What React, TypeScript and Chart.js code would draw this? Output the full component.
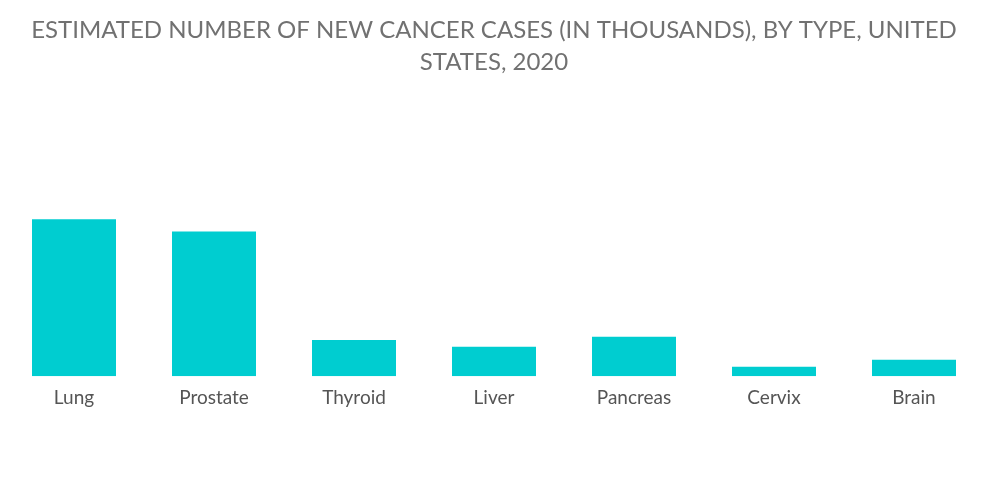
import React, { useEffect, useRef } from "react";
import { Chart, registerables } from "chart.js";

Chart.register(...registerables);

const titleLines = [
  "ESTIMATED NUMBER OF NEW CANCER CASES (IN THOUSANDS), BY TYPE, UNITED",
  "STATES, 2020",
];
const categories = ["Lung", "Prostate", "Thyroid", "Liver", "Pancreas", "Cervix", "Brain"];
const newCases = [228.8, 211.0, 52.9, 42.8, 57.6, 13.8, 24.0];

export default function App() {
  const ref = useRef<HTMLCanvasElement | null>(null);

  useEffect(() => {
    if (!ref.current) return;
    const chart = new Chart(ref.current, {
      type: "bar",
      data: {
        labels: categories,
        datasets: [
          {
            data: newCases,
            backgroundColor: "#00CDD0",
            borderWidth: 0,
            barPercentage: 0.6,
            categoryPercentage: 1,
          },
        ],
      },
      options: {
        animation: false,
        responsive: false,
        maintainAspectRatio: false,
        layout: { padding: { left: 4, right: 16, top: 0, bottom: 85 } },
        plugins: {
          legend: { display: false },
          tooltip: { enabled: false },
          title: {
            display: true,
            text: titleLines,
            color: "#717171",
            font: { family: "Lato", size: 24, weight: "normal", lineHeight: 32 / 24 },
            padding: { top: 14, bottom: 10 },
          },
        },
        scales: {
          x: {
            grid: { display: false, drawTicks: false },
            border: { display: false },
            ticks: {
              color: "#555555",
              font: { family: "Lato", size: 19, lineHeight: 1.2 },
              padding: 10,
            },
          },
          y: {
            display: false,
            min: 0,
            max: 420,
          },
        },
      },
    });
    return () => chart.destroy();
  }, []);

  return (
    <div style={{ position: "absolute", left: 0, top: 0, width: 1000, height: 504, background: "#fff" }}>
      <canvas ref={ref} width={1000} height={504} style={{ width: 1000, height: 504, display: "block" }} />
    </div>
  );
}
